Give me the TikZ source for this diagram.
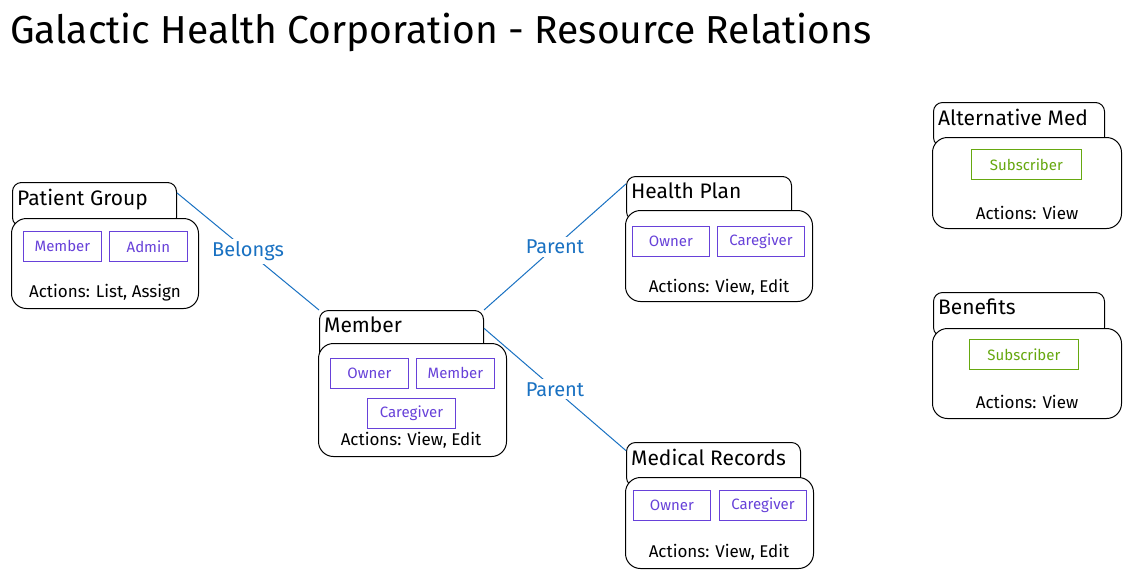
\documentclass[tikz,border=0pt]{standalone}
\usepackage{fontspec}
\setmainfont{Fira Sans}
\usetikzlibrary{positioning}

\definecolor{rolepurple}{HTML}{6741D9}
\definecolor{subgreen}{HTML}{66A80F}
\definecolor{relblue}{HTML}{1971C2}

\tikzset{
    restab/.style={draw, line width=1pt, rounded corners=9pt, fill=white, anchor=north west,
        minimum height=44pt, inner sep=0pt},
    tablabel/.style={anchor=north west, inner sep=0pt, xshift=5pt, yshift=-7pt,
        font=\fontsize{21}{21}\selectfont},
    respanel/.style={draw, line width=1pt, rounded corners=15pt, fill=white, anchor=north west,
        inner sep=0pt},
    role/.style={draw=rolepurple, text=rolepurple, line width=0.8pt, anchor=north west,
        minimum height=30pt, inner sep=0pt, font=\fontsize{15}{15}\selectfont},
    subrole/.style={role, draw=subgreen, text=subgreen},
    actions/.style={inner sep=0pt, font=\fontsize{17}{17}\selectfont},
    relation/.style={draw=relblue, line width=1pt},
    rellabel/.style={fill=white, text=relblue, inner sep=3pt, font=\fontsize{20}{20}\selectfont},
}

\begin{document}
\begin{tikzpicture}[x=1pt, y=-1pt]
    \useasboundingbox (0,0) rectangle (1131,579);

    \node (title) at (10,32) [anchor=west, inner sep=0pt, font=\fontsize{39}{39}\selectfont]
        {Galactic Health Corporation - Resource Relations};

    % Patient Group
    \node (pgtab) at (12,182) [restab, minimum width=164pt, label={[tablabel]north west:Patient Group}] {};
    \node (pgbody) at (11,218) [respanel, minimum width=187pt, minimum height=90pt] {};
    \node (pgmember) at (23,231) [role, minimum width=78pt] {Member};
    \node (pgadmin) at (109,231) [role, minimum width=78pt] {Admin};
    \node (pgact) at (105,293) [actions] {Actions: List, Assign};

    % Member
    \node (mtab) at (319,310) [restab, minimum width=164pt, minimum height=50pt, label={[tablabel]north west:Member}] {};
    \node (mbody) at (318,343) [respanel, minimum width=188pt, minimum height=113pt] {};
    \node (mowner) at (330,358) [role, minimum width=78pt] {Owner};
    \node (mmember) at (416,358) [role, minimum width=78pt] {Member};
    \node (mcare) at (367,398) [role, minimum width=88pt] {Caregiver};
    \node (mact) at (411,440) [actions] {Actions: View, Edit};

    % Health Plan
    \node (hptab) at (626,176) [restab, minimum width=165pt, label={[tablabel]north west:Health Plan}] {};
    \node (hpbody) at (625,210) [respanel, minimum width=187pt, minimum height=91pt] {};
    \node (hpowner) at (632,226) [role, minimum width=77pt] {Owner};
    \node (hpcare) at (717,226) [role, minimum width=87pt] {Caregiver};
    \node (hpact) at (719,287) [actions] {Actions: View, Edit};

    % Medical Records
    \node (mrtab) at (626,442) [restab, minimum width=174pt, label={[tablabel]north west:Medical Records}] {};
    \node (mrbody) at (625,477) [respanel, minimum width=188pt, minimum height=91pt] {};
    \node (mrowner) at (633,490) [role, minimum width=77pt] {Owner};
    \node (mrcare) at (719,490) [role, minimum width=87pt] {Caregiver};
    \node (mract) at (719,552) [actions] {Actions: View, Edit};

    % Alternative Med
    \node (amtab) at (933,102) [restab, minimum width=171pt, label={[tablabel]north west:Alternative Med}] {};
    \node (ambody) at (932,137) [respanel, minimum width=189pt, minimum height=91pt] {};
    \node (amsub) at (971,149) [subrole, minimum width=110pt] {Subscriber};
    \node (amact) at (1027,213) [actions] {Actions: View};

    % Benefits
    \node (bntab) at (933,292) [restab, minimum width=171pt, label={[tablabel]north west:Benefits}] {};
    \node (bnbody) at (932,328) [respanel, minimum width=189pt, minimum height=90pt] {};
    \node (bnsub) at (969,339) [subrole, minimum width=109pt] {Subscriber};
    \node (bnact) at (1027,402) [actions] {Actions: View};

    % relations
    \draw[relation] (pgtab.8) -- node[rellabel] {Belongs} (mtab.north west);
    \draw[relation] (mtab.north east) -- node[rellabel] {Parent} (hptab.170);
    \draw[relation] (mtab.5) -- node[rellabel] {Parent} (mrtab.171);
\end{tikzpicture}
\end{document}
